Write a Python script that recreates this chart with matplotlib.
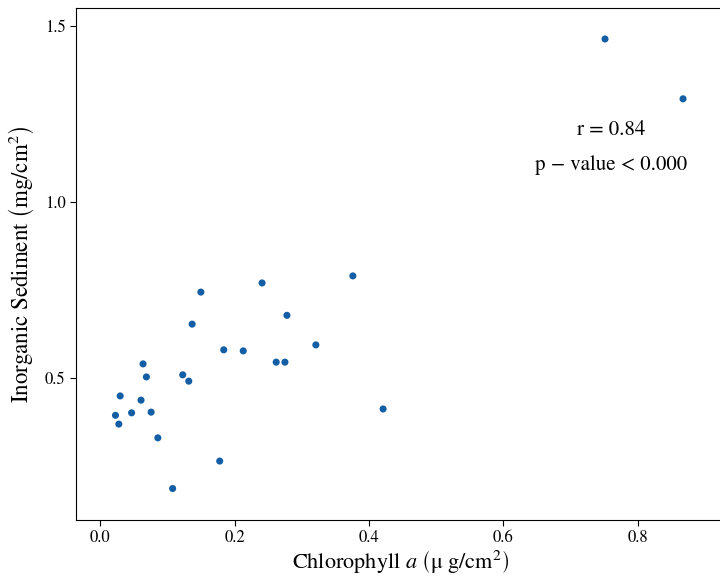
import matplotlib
matplotlib.use('Agg')
import matplotlib.pyplot as plt

plt.rcParams['font.family'] = 'serif'
plt.rcParams['font.serif'] = ['STIXGeneral', 'Liberation Serif', 'DejaVu Serif']
plt.rcParams['mathtext.fontset'] = 'stix'

# chlorophyll a vs inorganic sediment
chl = [0.751, 0.867, 0.376, 0.241, 0.150, 0.278, 0.137, 0.321, 0.184, 0.213,
       0.262, 0.275, 0.064, 0.069, 0.123, 0.132, 0.030, 0.061, 0.421, 0.023,
       0.047, 0.076, 0.028, 0.086, 0.178, 0.108]
sed = [1.463, 1.293, 0.790, 0.770, 0.744, 0.678, 0.653, 0.594, 0.580, 0.577,
       0.545, 0.545, 0.540, 0.503, 0.509, 0.491, 0.449, 0.437, 0.412, 0.394,
       0.401, 0.403, 0.369, 0.330, 0.264, 0.186]

fig = plt.figure(figsize=(7.2, 5.79), dpi=100)
ax = fig.add_axes([76 / 720, 1 - 520 / 579, 1.0075 - 76 / 720, 512 / 579])

ax.scatter(chl, sed, s=26, color='#135ea4', edgecolors='none', zorder=3)

ax.set_xlim(-0.0357, 0.93)
ax.set_ylim(0.0966, 1.551)
ax.set_xticks([0.0, 0.2, 0.4, 0.6, 0.8])
ax.set_yticks([0.5, 1.0, 1.5])
ax.tick_params(labelsize=12, length=4, direction='out')
ax.spines['right'].set_visible(False)

ax.set_xlabel(r'Chlorophyll $a$ $\left(\mathrm{\mu\ g/cm^2}\right)$', fontsize=16, labelpad=1)
ax.set_ylabel(r'Inorganic Sediment $\left(\mathrm{mg/cm^2_{\ }}\right)$', fontsize=16.5, labelpad=6)

ax.text(0.760, 1.205, 'r = 0.84', fontsize=15, ha='center', va='center')
ax.text(0.760, 1.105, 'p \u2212 value < 0.000', fontsize=15, ha='center', va='center')

fig.savefig('out.png', dpi=100)
